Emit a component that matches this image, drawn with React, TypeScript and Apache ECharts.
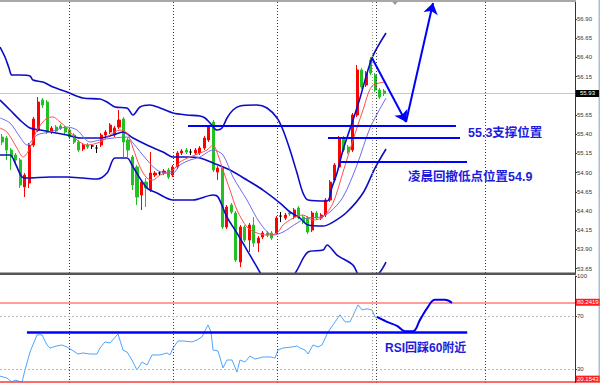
import { useEffect, useRef } from "react";
import * as echarts from "echarts";

// ---- data ----
const slotCount = 128; // bar slots across the plot (incl. empty shift area)
const categories = Array.from({ length: slotCount }, (_, i) => String(i));

// [open, close, low, high]
const candles: number[][] = [
  [55.363, 55.298, 55.259, 55.402],
  [55.35, 55.194, 55.064, 55.376],
  [55.194, 55.103, 54.933, 55.22],
  [55.129, 55.064, 55.025, 55.155],
  [55.064, 54.738, 54.699, 55.09],
  [54.712, 54.868, 54.582, 54.894],
  [54.764, 55.259, 54.699, 55.285],
  [55.259, 55.598, 55.233, 55.624],
  [55.454, 55.819, 55.428, 55.884],
  [55.845, 55.78, 55.741, 55.871],
  [55.819, 55.428, 55.402, 55.845],
  [55.428, 55.48, 55.402, 55.506],
  [55.493, 55.441, 55.415, 55.519],
  [55.506, 55.48, 55.454, 55.532],
  [55.48, 55.428, 55.402, 55.506],
  [55.454, 55.363, 55.337, 55.48],
  [55.389, 55.298, 55.272, 55.415],
  [55.298, 55.194, 55.168, 55.324],
  [55.207, 55.259, 55.181, 55.285],
  [55.259, 55.233, 55.207, 55.285],
  [55.246, 55.246, 55.207, 55.272],
  [55.22, 55.22, 55.155, 55.259],
  [55.259, 55.389, 55.233, 55.415],
  [55.389, 55.428, 55.363, 55.454],
  [55.428, 55.519, 55.402, 55.545],
  [55.389, 55.48, 55.363, 55.506],
  [55.493, 55.584, 55.467, 55.715],
  [55.598, 55.298, 55.103, 55.624],
  [55.324, 55.194, 55.103, 55.35],
  [55.103, 54.738, 54.673, 55.129],
  [54.973, 54.582, 54.478, 54.999],
  [54.608, 54.777, 54.413, 54.803],
  [54.777, 54.699, 54.452, 54.829],
  [54.673, 54.894, 54.647, 55.168],
  [54.868, 54.894, 54.842, 54.92],
  [54.894, 54.894, 54.868, 54.92],
  [54.894, 54.92, 54.868, 54.946],
  [54.933, 54.842, 54.816, 54.959],
  [54.868, 54.973, 54.842, 54.999],
  [54.973, 55.155, 54.946, 55.181],
  [55.155, 55.181, 55.129, 55.207],
  [55.194, 55.168, 55.142, 55.22],
  [55.168, 55.168, 55.129, 55.207],
  [55.155, 55.194, 55.129, 55.22],
  [55.155, 55.22, 55.129, 55.246],
  [55.22, 55.35, 55.194, 55.376],
  [55.324, 55.493, 55.298, 55.519],
  [55.558, 54.933, 54.907, 55.584],
  [54.907, 54.959, 54.803, 54.986],
  [54.959, 54.191, 54.165, 54.986],
  [54.191, 54.452, 54.165, 54.478],
  [54.478, 54.387, 54.361, 54.504],
  [54.374, 53.762, 53.736, 54.4],
  [53.736, 54.191, 53.67, 54.217],
  [54.191, 54.022, 53.996, 54.217],
  [54.022, 54.217, 53.866, 54.243],
  [54.217, 53.983, 53.931, 54.321],
  [53.983, 54.048, 53.866, 54.074],
  [54.061, 54.113, 54.035, 54.139],
  [54.113, 54.087, 54.061, 54.139],
  [54.113, 54.048, 54.022, 54.139],
  [54.113, 54.308, 54.087, 54.334],
  [54.334, 54.334, 54.256, 54.387],
  [54.308, 54.348, 54.282, 54.374],
  [54.374, 54.361, 54.334, 54.4],
  [54.321, 54.413, 54.295, 54.439],
  [54.439, 54.321, 54.295, 54.465],
  [54.321, 54.256, 54.23, 54.348],
  [54.308, 54.126, 54.1, 54.334],
  [54.152, 54.374, 54.126, 54.4],
  [54.374, 54.308, 54.282, 54.4],
  [54.308, 54.348, 54.282, 54.374],
  [54.348, 54.543, 54.321, 54.569],
  [54.543, 54.777, 54.517, 54.803],
  [54.803, 54.999, 54.777, 55.025],
  [54.973, 55.35, 54.946, 55.376],
  [55.35, 55.194, 55.168, 55.376],
  [55.233, 55.168, 55.142, 55.259],
  [55.194, 55.65, 55.168, 55.676],
  [55.65, 56.236, 55.624, 56.301],
  [56.236, 56.014, 55.988, 56.262],
  [56.04, 56.196, 56.014, 56.222],
  [56.366, 56.196, 56.17, 56.405],
  [56.17, 55.975, 55.949, 56.196],
  [55.975, 55.884, 55.858, 56.001],
  [55.962, 55.93, 55.897, 55.988],
];

// [bar position, price]
const bbUpper: number[][] = [
  [-0.5, 56.535], [0.61, 56.405], [1.5, 56.262], [2.17, 56.17], [3.95, 56.17], [6.18, 56.157],
  [6.85, 56.105], [9.07, 56.079], [11.3, 56.014], [14.41, 55.949], [17.98, 55.871], [21.76, 55.858],
  [23.32, 55.819], [25.1, 55.754], [27.77, 55.741], [29.11, 55.65], [30.66, 55.754], [32.89, 55.78],
  [35.12, 55.741], [38.01, 55.676], [41.13, 55.65], [44.02, 55.637], [45.14, 55.611], [46.25, 55.545],
  [47.81, 55.454], [48.92, 55.48], [50.03, 55.611], [51.37, 55.715], [52.92, 55.767], [56.71, 55.78],
  [58.94, 55.741], [61.17, 55.611], [62.5, 55.454], [64.06, 55.194], [65.62, 54.894], [66.95, 54.634],
  [68.07, 54.543], [72.3, 54.53], [73.41, 54.712], [74.52, 54.894], [75.86, 55.194], [78.08, 55.584],
  [79.64, 55.871], [82.31, 56.392], [85.43, 56.717],
];
const bbMiddle: number[][] = [
  [-0.5, 55.845], [1.73, 55.715], [3.95, 55.584], [6.18, 55.48], [8.4, 55.454], [14.41, 55.389],
  [17.31, 55.35], [21.76, 55.35], [24.66, 55.389], [26.88, 55.428], [29.11, 55.35], [32.22, 55.259],
  [35.79, 55.168], [38.01, 55.103], [41.13, 55.103], [44.02, 55.09], [46.92, 55.025], [50.7, 54.933],
  [54.48, 54.803], [58.05, 54.673], [61.84, 54.504], [64.06, 54.387], [66.29, 54.308], [68.07, 54.217],
  [71.41, 54.204], [73.63, 54.256], [76.75, 54.387], [80.31, 54.634], [82.98, 54.959], [85.43, 55.207],
];
const bbLower: number[][] = [
  [-0.5, 55.129], [1.73, 55.129], [3.06, 54.999], [4.4, 54.842], [5.51, 54.829], [10.63, 54.842],
  [14.41, 54.842], [17.98, 54.829], [21.09, 54.816], [23.32, 54.894], [25.1, 55.09], [27.77, 55.09],
  [29.11, 54.973], [32.22, 54.699], [34.45, 54.634], [38.01, 54.543], [42.47, 54.543], [46.92, 54.608],
  [48.03, 54.582], [50.03, 54.321], [52.26, 54.113], [54.48, 53.892], [56.71, 53.67], [58.49, 53.501],
  [60.72, 53.397], [63.39, 53.436], [65.62, 53.631], [68.07, 53.866], [71.41, 53.892], [72.3, 53.957],
  [74.52, 53.827], [78.08, 53.696], [79.64, 53.527], [81.87, 53.475], [84.09, 53.605], [85.43, 53.736],
];
const maSlow: number[][] = [
  [-0.5, 55.611], [1.73, 55.545], [3.95, 55.363], [5.51, 55.259], [7.74, 55.389], [10.63, 55.428],
  [14.41, 55.493], [16.64, 55.454], [19.54, 55.298], [21.76, 55.324], [24.66, 55.35], [27.77, 55.363],
  [29.11, 55.285], [32.22, 55.064], [34.45, 54.933], [36.68, 54.894], [38.01, 54.894], [39.57, 54.999],
  [41.8, 55.064], [44.02, 55.103], [46.92, 55.194], [49.14, 55.129], [51.37, 54.842], [54.48, 54.543],
  [57.38, 54.243], [60.27, 54.087], [62.5, 54.126], [65.62, 54.243], [67.84, 54.308], [70.74, 54.321],
  [72.96, 54.387], [75.86, 54.582], [78.97, 54.999], [81.87, 55.48], [85.43, 55.871],
];
const maFast: number[][] = [
  [-0.5, 55.48], [1.06, 55.428], [3.28, 55.22], [4.62, 55.103], [6.18, 55.22], [7.74, 55.454],
  [9.96, 55.611], [11.3, 55.624], [12.86, 55.558], [14.41, 55.48], [16.64, 55.324], [18.87, 55.259],
  [21.76, 55.298], [23.99, 55.389], [26.21, 55.454], [27.77, 55.415], [29.11, 55.22], [30.66, 54.973],
  [32.22, 54.829], [33.56, 54.803], [35.12, 54.868], [38.01, 54.933], [39.57, 55.038], [41.8, 55.103],
  [44.02, 55.155], [45.58, 55.194], [46.92, 55.259], [48.03, 55.129], [49.14, 54.933], [50.7, 54.673],
  [52.26, 54.413], [54.48, 54.191], [56.71, 54.113], [58.94, 54.087], [61.17, 54.113], [62.5, 54.217],
  [64.73, 54.308], [66.95, 54.348], [69.18, 54.282], [71.41, 54.321], [73.63, 54.504], [75.86, 54.907],
  [78.08, 55.324], [80.31, 55.715], [82.31, 56.027], [85.21, 56.079],
];

const rsi: number[][] = [
  [-0.5, 24.7], [1.06, 23.2], [2.17, 20.2], [2.84, 21.7], [4.4, 20.2], [5.06, 29.2], [6.18, 42.8],
  [7.74, 55.7], [8.85, 55.7], [9.96, 48.1], [10.63, 45.8], [12.19, 47.4], [13.3, 48.1], [14.41, 46.6],
  [15.53, 44.3], [16.86, 41.3], [17.98, 42.1], [19.54, 41.3], [21.09, 41.3], [21.76, 45.8], [22.87, 50.4],
  [23.99, 49.6], [25.77, 56.4], [26.88, 44.3], [27.77, 42.8], [28.88, 36.8], [29.99, 29.2], [31.11, 35.3],
  [32.22, 33.0], [33.34, 40.6], [35.12, 40.6], [36.68, 42.1], [37.35, 40.6], [38.01, 45.8], [39.13, 51.1],
  [40.24, 51.1], [42.24, 50.4], [43.36, 51.9], [44.47, 54.2], [45.8, 63.2], [46.47, 57.9], [46.92, 44.3],
  [48.03, 43.6], [49.14, 30.8], [50.03, 36.8], [51.15, 36.8], [52.26, 27.7], [52.92, 36.8], [54.04, 35.3],
  [55.15, 39.8], [56.27, 37.5], [58.05, 39.1], [59.61, 39.1], [60.72, 38.3], [61.39, 44.3], [62.5, 45.8],
  [64.51, 46.6], [65.62, 47.4], [66.29, 45.8], [67.4, 44.3], [68.07, 41.3], [69.18, 48.1], [70.29, 46.6],
  [71.18, 48.1], [72.52, 57.9], [73.63, 63.2], [75.19, 70.8], [76.3, 65.5], [77.42, 65.5], [79.2, 78.3],
  [80.09, 74.5], [81.2, 75.3], [82.31, 74.5], [82.98, 69.2], [84.09, 67.7], [85.21, 67.0],
];
const rsiSketch: number[][] = [
  [83.43, 69.2], [85.65, 65.5], [87.88, 62.5], [89.66, 58.5], [91.44, 58.5], [92.99, 67.0],
  [94.78, 76.8], [96.33, 82.1], [98.56, 82.1], [100.12, 79.8],
];

const priceTicks = [53.65, 53.9, 54.15, 54.4, 54.65, 54.9, 55.15, 55.4, 55.65, 55.9, 56.15, 56.4, 56.65, 56.9];
const priceLabels = [53.65, 53.9, 54.15, 54.4, 54.65, 54.9, 55.15, 55.4, 55.65, 56.15, 56.4, 56.65, 56.9];
const rsiTicks = [30, 70, 100];
const lastPrice = 55.93;
const rsiHigh = 80.2419;
const rsiLow = 20.1543;

const separatorAt = [14.93, 38.08, 61.23, 82.47, 83.36, 107.47];
const supportLevels = [55.506, 55.354, 55.042];
const supportFrom = [41.35, 72.52, 75.19];
const supportTo = [101.0, 101.9, 103.46];
const arrowPath: number[][] = [[82.31, 56.392], [89.88, 55.558], [95.89, 57.108]];
const rsiFloor = 57.4;
const rsiFloorFrom = 5.5;
const rsiFloorTo = 103.5;

const BLUE = "#0000ff";
const BAND = "#0c0cc8";
const TEXT_BLUE = "#1c1cdc";
const FONT = '"Liberation Sans", "Noto Sans CJK SC", sans-serif';

export default function App() {
  const ref = useRef<HTMLDivElement>(null);

  useEffect(() => {
    document.body.style.margin = "0";
    if (!ref.current) return;
    const chart = echarts.init(ref.current, null, { renderer: "svg" });

    const sepLine = (v: number, i: number) => ({
      xAxis: v,
      lineStyle: { color: i === 3 ? "#9a9a9a" : "#3a3a3a", type: [1, 2], width: 1 },
    });

    const priceLine = (data: number[][], color: string, width: number) => ({
      type: "line",
      xAxisIndex: 1,
      yAxisIndex: 0,
      data,
      showSymbol: false,
      smooth: 0.3,
      z: 4,
      lineStyle: { color, width },
    });

    const boxLabel = (text: string, bg: string, padX: number, offsetY = 0) => ({
      show: true,
      position: "end",
      distance: 1,
      formatter: text,
      backgroundColor: bg,
      color: "#fff",
      fontSize: 6,
      fontFamily: FONT,
      padding: [1, padX, 0, padX],
      offset: [0, offsetY],
    });

    const option: any = {
      animation: false,
      backgroundColor: "#ffffff",
      grid: [
        { left: 0, top: 2, width: 575, height: 271, outerBoundsMode: "none" },
        { left: 0, top: 276, width: 575, height: 107, outerBoundsMode: "none" },
      ],
      xAxis: [
        { type: "category", gridIndex: 0, data: categories, show: false, boundaryGap: true },
        { type: "value", gridIndex: 0, min: -0.5, max: slotCount - 0.5, show: false },
        { type: "value", gridIndex: 1, min: -0.5, max: slotCount - 0.5, show: false },
      ],
      yAxis: [
        {
          type: "value",
          gridIndex: 0,
          position: "right",
          min: 53.593,
          max: 57.121,
          splitLine: { show: false },
          axisLine: { show: true, onZero: false, lineStyle: { color: "#333", width: 1 } },
          axisTick: { show: true, length: 2, customValues: priceTicks, lineStyle: { color: "#333" } },
          axisLabel: {
            customValues: priceLabels,
            formatter: (v: number) => v.toFixed(2),
            fontSize: 6,
            color: "#333",
            margin: 2,
            fontFamily: FONT,
          },
        },
        {
          type: "value",
          gridIndex: 1,
          position: "right",
          min: 19.5,
          max: 100,
          splitLine: { show: false },
          axisLine: { show: true, onZero: false, lineStyle: { color: "#333", width: 1 } },
          axisTick: { show: true, length: 2, customValues: rsiTicks, lineStyle: { color: "#333" } },
          axisLabel: {
            customValues: rsiTicks,
            formatter: (v: number) => String(v),
            fontSize: 6,
            color: "#333",
            margin: 2,
            fontFamily: FONT,
          },
        },
      ],
      series: [
        {
          type: "line",
          xAxisIndex: 1,
          yAxisIndex: 0,
          data: [],
          silent: true,
          markLine: { silent: true, symbol: "none", label: { show: false }, data: separatorAt.map(sepLine) },
        },
        {
          type: "line",
          xAxisIndex: 2,
          yAxisIndex: 1,
          data: [],
          silent: true,
          markLine: { silent: true, symbol: "none", label: { show: false }, data: separatorAt.map(sepLine) },
        },
        {
          type: "candlestick",
          xAxisIndex: 0,
          yAxisIndex: 0,
          data: candles,
          barWidth: 2.6,
          z: 3,
          itemStyle: {
            color: "#ff0000",
            color0: "#22c022",
            borderColor: "#ff0000",
            borderColor0: "#22c022",
            borderColorDoji: "#000000",
            borderWidth: 1,
          },
          markLine: {
            silent: true,
            symbol: "none",
            z: 1,
            data: [{ yAxis: lastPrice }],
            lineStyle: { color: "#c8c8c8", width: 1, type: "solid" },
            label: boxLabel(lastPrice.toFixed(2), "#000000", 4),
          },
        },
        priceLine(bbUpper, BAND, 1.6),
        priceLine(bbMiddle, BAND, 1.6),
        priceLine(bbLower, BAND, 1.6),
        priceLine(maSlow, "#6a6af2", 1),
        priceLine(maFast, "#ff4d4d", 1),
        {
          type: "line",
          xAxisIndex: 1,
          yAxisIndex: 0,
          data: [],
          silent: true,
          z: 6,
          markLine: {
            silent: true,
            symbol: ["none", "none"],
            label: { show: false },
            lineStyle: { color: BLUE, width: 2, type: "solid" },
            data: [
              ...supportLevels.map((p, i) => [{ coord: [supportFrom[i], p] }, { coord: [supportTo[i], p] }]),
              [
                { coord: arrowPath[0], symbol: "none" },
                { coord: arrowPath[1], symbol: "arrow", symbolSize: 11 },
              ],
              [
                { coord: arrowPath[1], symbol: "none" },
                { coord: arrowPath[2], symbol: "arrow", symbolSize: 11 },
              ],
            ],
          },
        },
        {
          type: "line",
          xAxisIndex: 2,
          yAxisIndex: 1,
          data: rsi,
          showSymbol: false,
          z: 4,
          lineStyle: { color: "#4ea4ff", width: 1 },
          markLine: {
            silent: true,
            symbol: "none",
            data: [
              {
                yAxis: rsiHigh,
                lineStyle: { color: "#ff9c9c", width: 2, type: "solid" },
                label: boxLabel(String(rsiHigh), "#ff1f1f", 1),
              },
              {
                yAxis: rsiLow,
                lineStyle: { color: "#ff3a3a", width: 1.5, type: "solid" },
                label: boxLabel(String(rsiLow), "#ff1f1f", 1, -3),
              },
              { yAxis: 70, lineStyle: { color: "#b8b8b8", width: 1, type: [2, 2] }, label: { show: false } },
              { yAxis: 30, lineStyle: { color: "#b8b8b8", width: 1, type: [2, 2] }, label: { show: false } },
            ],
          },
        },
        {
          type: "line",
          xAxisIndex: 2,
          yAxisIndex: 1,
          data: rsiSketch,
          showSymbol: false,
          smooth: 0.4,
          z: 6,
          lineStyle: { color: "#0000ee", width: 2 },
          markLine: {
            silent: true,
            symbol: "none",
            label: { show: false },
            lineStyle: { color: BLUE, width: 2.5, type: "solid" },
            data: [[{ coord: [rsiFloorFrom, rsiFloor] }, { coord: [rsiFloorTo, rsiFloor] }]],
          },
        },
      ],
      graphic: [
        { type: "rect", silent: true, z: 10, shape: { x: 0, y: 0, width: 576, height: 2 }, style: { fill: "#a8a8a8" } },
        { type: "rect", silent: true, z: 10, shape: { x: 0, y: 272.5, width: 576, height: 2.5 }, style: { fill: "#555555" } },
        { type: "rect", silent: true, z: -1, shape: { x: 598.5, y: 0, width: 1.5, height: 383 }, style: { fill: "#a9bddb" } },
        { type: "polygon", silent: true, z: 10, shape: { points: [[392, 1.5], [398, 1.5], [395, 5]] }, style: { fill: "#9a9a9a" } },
        {
          type: "text",
          silent: true,
          z: 10,
          x: 468,
          y: 132.5,
          style: { text: "55.3支撑位置", fill: TEXT_BLUE, font: `bold 12.5px ${FONT}`, textVerticalAlign: "middle" },
        },
        {
          type: "text",
          silent: true,
          z: 10,
          x: 408,
          y: 177,
          style: { text: "凌晨回撤低点位置54.9", fill: TEXT_BLUE, font: `bold 12.5px ${FONT}`, textVerticalAlign: "middle" },
        },
        {
          type: "text",
          silent: true,
          z: 10,
          x: 385,
          y: 347.5,
          style: { text: "RSI回踩60附近", fill: TEXT_BLUE, font: `bold 12px ${FONT}`, textVerticalAlign: "middle" },
        },
      ],
    };

    chart.setOption(option);
    return () => chart.dispose();
  }, []);

  return <div ref={ref} style={{ width: 600, height: 383 }} />;
}
